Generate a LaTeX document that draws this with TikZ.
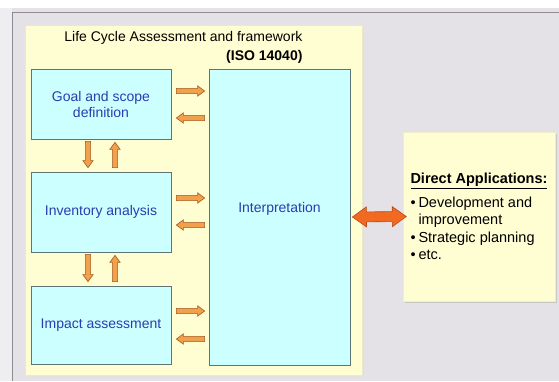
\documentclass[tikz,border=0pt]{standalone}
\usepackage{fontspec}
\setmainfont{Liberation Sans}
\usetikzlibrary{calc}
\definecolor{bg}{HTML}{E4E2E6}
\definecolor{bgleft}{HTML}{EEEDEF}
\definecolor{panel}{HTML}{FFFDD2}
\definecolor{boxfill}{HTML}{CCFFFF}
\definecolor{boxline}{HTML}{5F7575}
\definecolor{txtblue}{HTML}{2A3CB0}
\definecolor{arrfill}{HTML}{F2A04C}
\definecolor{arrline}{HTML}{A0581E}
\definecolor{bigfill}{HTML}{F26A22}
\definecolor{bigline}{HTML}{B8481A}
\definecolor{frameline}{HTML}{8E8C92}
% #1 style, #2 from, #3 to, #4 half shaft, #5 half head, #6 head length
\newcommand\fatarrow[6]{%
  \coordinate (faneck) at ($(#3)!#6!(#2)$);
  \filldraw[#1] ($(#2)!#4!90:(#3)$) -- ($(faneck)!#4!90:(#3)$) -- ($(faneck)!#5!90:(#3)$)
    -- (#3) -- ($(faneck)!#5!-90:(#3)$) -- ($(faneck)!#4!-90:(#3)$) -- ($(#2)!#4!-90:(#3)$) -- cycle;}
\newcommand\fatdouble[6]{%
  \coordinate (fdA) at ($(#2)!#6!(#3)$);
  \coordinate (fdB) at ($(#3)!#6!(#2)$);
  \filldraw[#1] (#2) -- ($(fdA)!#5!90:(#3)$) -- ($(fdA)!#4!90:(#3)$) -- ($(fdB)!#4!90:(#3)$)
    -- ($(fdB)!#5!90:(#3)$) -- (#3) -- ($(fdB)!#5!-90:(#3)$) -- ($(fdB)!#4!-90:(#3)$)
    -- ($(fdA)!#4!-90:(#3)$) -- ($(fdA)!#5!-90:(#3)$) -- cycle;}
\tikzset{
  stagebox/.style={draw=boxline, line width=0.8pt, fill=boxfill, text=txtblue, align=center,
    inner sep=0pt, minimum width=140pt},
  smallarr/.style={fill=arrfill, draw=arrline, line width=0.6pt, line join=miter},
  bigarr/.style={fill=bigfill, draw=bigline, line width=0.6pt, line join=miter},
}
\begin{document}
\begin{tikzpicture}[x=1pt, y=-1pt, font=\fontsize{14}{16}\selectfont]
\useasboundingbox (0,0) rectangle (559,381);
\fill[white] (0,0) rectangle (559,381);
\fill[bgleft] (0,8) rectangle (12,381);
\fill[bg] (12,8) rectangle (559,381);
\draw[frameline, line width=1.4pt] (12.5,381) -- (12.5,12.5) -- (559,12.5);
% panel
\fill[black!12] (26.5,26.5) rectangle (363.5,376.5);
\node[fill=panel, draw=panel!85!gray, line width=0.5pt, minimum width=337pt, minimum height=350pt, inner sep=0pt] (panel) at (193.5,200) {};
\node[anchor=east, align=right, font=\fontsize{14}{19}\selectfont] (title) at (306,47.5)
  {Life Cycle Assessment and framework\\\textbf{(ISO 14040)}};
% boxes
\node[stagebox, minimum height=70pt] (goal) at (101,104) {Goal and scope\\definition};
\node[stagebox, minimum height=80pt] (inv) at (101,212) {Inventory analysis};
\node[stagebox, minimum height=78pt] (imp) at (101,325) {Impact assessment};
\node[stagebox, minimum width=141pt, minimum height=296pt] (interp) at (279.5,217) {};
\node[text=txtblue] (interptext) at ($(interp.center)+(0,-8)$) {Interpretation};
% applications
\fill[black!22] (404.5,133.5) rectangle (556.5,302.5);
\node[fill=panel, draw=panel!88!gray, line width=0.4pt, minimum width=152pt, minimum height=169pt,
  inner sep=0pt, align=left, font=\fontsize{14.5}{17.5}\selectfont] (apps) at (479,216.5)
  {\underline{\textbf{Direct Applications:}}\\[6pt]
   \makebox[8pt][l]{\textbullet}Development and\\
   \hspace*{8pt}improvement\\
   \makebox[8pt][l]{\textbullet}Strategic planning\\
   \makebox[8pt][l]{\textbullet}etc.};
% horizontal arrows
\foreach \b/\ra/\la in {goal/-13/14, inv/-14/13, imp/-14/14}{
  \coordinate (r1) at ($(\b.east)+(5,\ra)$);
  \coordinate (r2) at ($(interp.west|-r1)+(-4,0)$);
  \fatarrow{smallarr}{r1}{r2}{2.6pt}{5.2pt}{7pt}
  \coordinate (l2) at ($(\b.east)+(5,\la)$);
  \coordinate (l1) at ($(interp.west|-l2)+(-4,0)$);
  \fatarrow{smallarr}{l1}{l2}{2.6pt}{5.2pt}{7pt}
}
% vertical arrows
\foreach \u/\d in {goal/inv, inv/imp}{
  \coordinate (d1) at ($(\u.south)+(-13,2)$);
  \coordinate (d2) at ($(\d.north)+(-13,-4)$);
  \fatarrow{smallarr}{d1}{d2}{2.6pt}{5.2pt}{7pt}
  \coordinate (u1) at ($(\d.north)+(14,-4)$);
  \coordinate (u2) at ($(\u.south)+(14,3)$);
  \fatarrow{smallarr}{u1}{u2}{2.6pt}{5.2pt}{7pt}
}
% double arrow
\coordinate (da) at ($(interp.east)+(2,0)$);
\coordinate (db) at ($(apps.west)+(3.5,0)$);
\fatdouble{bigarr}{da}{db}{5pt}{10pt}{14pt}
\end{tikzpicture}
\end{document}
